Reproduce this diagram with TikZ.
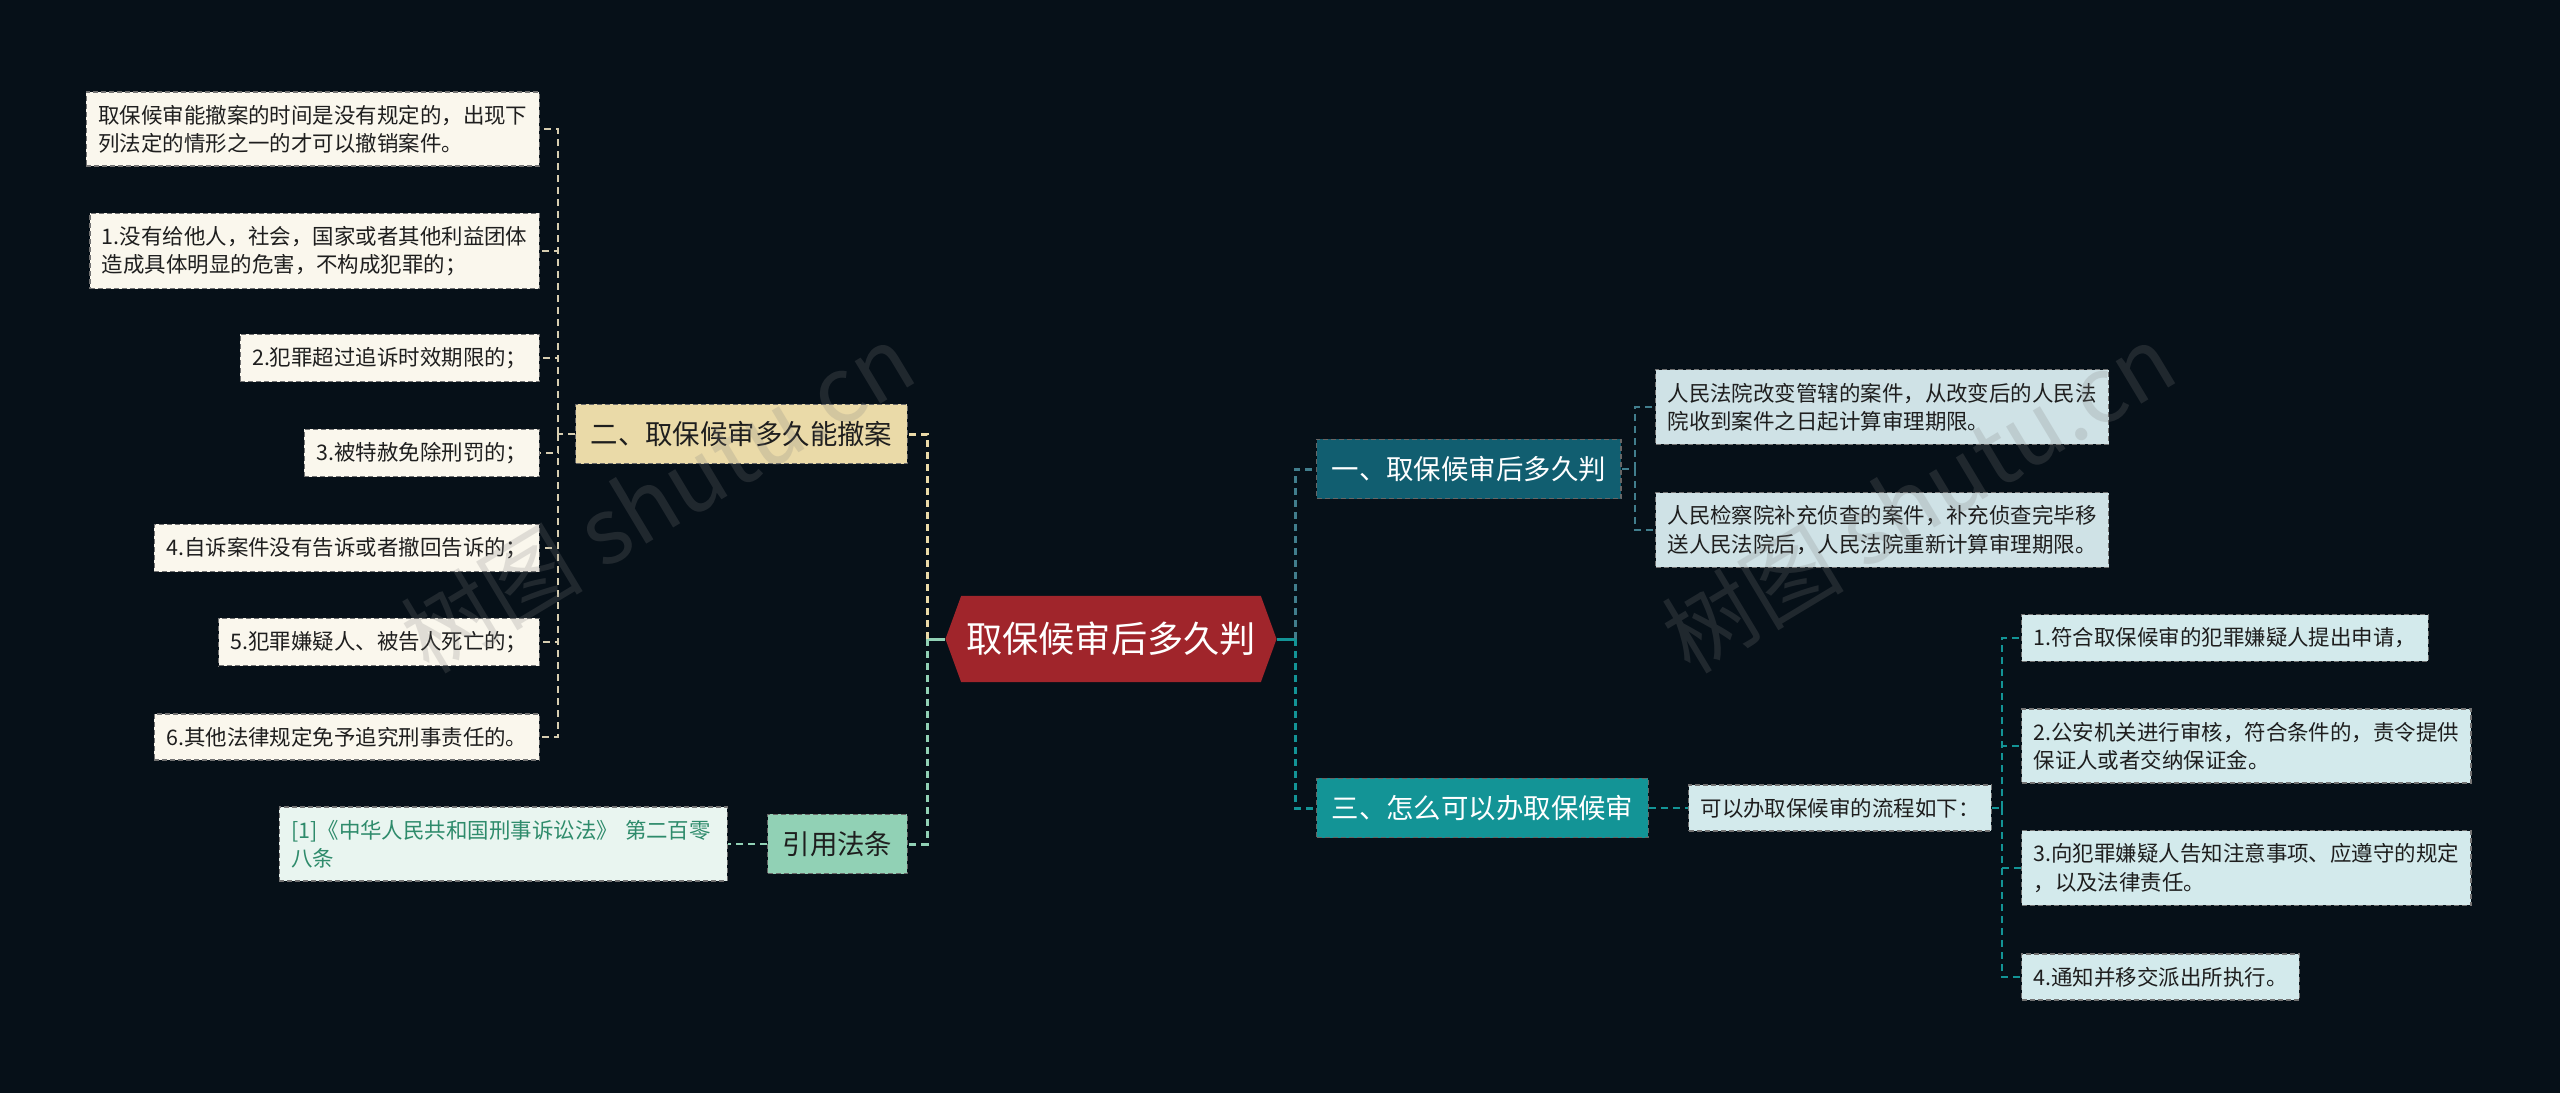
\documentclass[tikz,border=0pt]{standalone}
\usepackage{fontspec}
\setmainfont{Noto Sans CJK SC}
\usepackage{tikz}
\usetikzlibrary{shapes.symbols, positioning}
\definecolor{bgdark}{RGB}{6,16,24}
\definecolor{rootred}{RGB}{160,37,43}
\definecolor{sandfill}{RGB}{234,218,168}
\definecolor{mintfill}{RGB}{145,209,181}
\definecolor{deepteal}{RGB}{17,94,112}
\definecolor{midteal}{RGB}{19,148,150}
\definecolor{creamleaf}{RGB}{250,247,237}
\definecolor{blueleaf}{RGB}{207,226,230}
\definecolor{aqualeaf}{RGB}{211,234,236}
\definecolor{citefill}{RGB}{233,245,240}
\definecolor{citetext}{RGB}{46,139,107}
\definecolor{sandline}{RGB}{214,205,176}
\definecolor{inkgray}{RGB}{30,30,30}
\newcommand{\rootfont}{\fontsize{10.3pt}{12pt}\selectfont}
\newcommand{\branchfont}{\fontsize{7.8pt}{9.5pt}\selectfont}
\newcommand{\leaffont}{\fontsize{6.1pt}{8pt}\selectfont}

\begin{document}
\begin{tikzpicture}[x=0.01cm, y=-0.01cm,
  rootbox/.style={shape=signal, signal to=west and east, signal pointer angle=140,
                  fill=rootred, text=white, font=\rootfont,
                  minimum height=0.86cm, inner xsep=0.05cm},
  branch/.style={rectangle, draw=black!60, dash pattern=on 0.05cm off 0.03cm,
                 line width=0.012cm, inner xsep=0.15cm, inner ysep=0.17cm,
                 font=\branchfont},
  leaf/.style={rectangle, draw=black!55, dash pattern=on 0.05cm off 0.03cm,
               line width=0.012cm, inner xsep=0.12cm, inner ysep=0.13cm,
               align=left, font=\leaffont, text=inkgray},
  stem/.style={line width=0.03cm},
  spine/.style={line width=0.03cm, dash pattern=on 0.07cm off 0.05cm},
  twig/.style={line width=0.02cm, dash pattern=on 0.07cm off 0.05cm},
  watermark/.style={font=\fontsize{26pt}{30pt}\selectfont, text=gray, opacity=0.22}
]
  \fill[bgdark] (0,0) rectangle (2560,1093);
  \useasboundingbox (0,0) rectangle (2560,1093);

  \node[rootbox] (root) at (1111,639) {取保候审后多久判};

  % left branches
  \node[branch, fill=sandfill, text=inkgray, anchor=east] (n2) at (908,434) {二、取保候审多久能撤案};
  \node[branch, fill=mintfill, text=inkgray, anchor=east] (law) at (908,844) {引用法条};
  \node[leaf, fill=citefill, text=citetext, text width=4.24cm, left=0.39cm of law] (cite)
    {[1]《中华人民共和国刑事诉讼法》 第二百零\\八条};

  \node[leaf, fill=creamleaf, anchor=east] (l0) at (540,129) {取保候审能撤案的时间是没有规定的，出现下\\列法定的情形之一的才可以撤销案件。};
  \node[leaf, fill=creamleaf, anchor=east] (l1) at (540,251) {1.没有给他人，社会，国家或者其他利益团体\\造成具体明显的危害，不构成犯罪的；};
  \node[leaf, fill=creamleaf, anchor=east] (l2) at (540,358) {2.犯罪超过追诉时效期限的；};
  \node[leaf, fill=creamleaf, anchor=east] (l3) at (540,453) {3.被特赦免除刑罚的；};
  \node[leaf, fill=creamleaf, anchor=east] (l4) at (540,548) {4.自诉案件没有告诉或者撤回告诉的；};
  \node[leaf, fill=creamleaf, anchor=east] (l5) at (540,642) {5.犯罪嫌疑人、被告人死亡的；};
  \node[leaf, fill=creamleaf, anchor=east] (l6) at (540,737) {6.其他法律规定免予追究刑事责任的。};

  % right branches
  \node[branch, fill=deepteal, text=white, anchor=west] (n1) at (1316,469) {一、取保候审后多久判};
  \node[branch, fill=midteal, text=white, anchor=west] (n3) at (1316,808) {三、怎么可以办取保候审};

  \node[leaf, fill=blueleaf, anchor=west] (r1) at (1655,407) {人民法院改变管辖的案件，从改变后的人民法\\院收到案件之日起计算审理期限。};
  \node[leaf, fill=blueleaf, anchor=west] (r2) at (1655,530) {人民检察院补充侦查的案件，补充侦查完毕移\\送人民法院后，人民法院重新计算审理期限。};

  \node[leaf, fill=aqualeaf, right=0.39cm of n3] (flow) {可以办取保候审的流程如下：};
  \node[leaf, fill=aqualeaf, anchor=west] (s1) at (2021,638) {1.符合取保候审的犯罪嫌疑人提出申请，};
  \node[leaf, fill=aqualeaf, anchor=west] (s2) at (2021,746) {2.公安机关进行审核，符合条件的，责令提供\\保证人或者交纳保证金。};
  \node[leaf, fill=aqualeaf, anchor=west] (s3) at (2021,868) {3.向犯罪嫌疑人告知注意事项、应遵守的规定\\，以及法律责任。};
  \node[leaf, fill=aqualeaf, anchor=west] (s4) at (2021,977) {4.通知并移交派出所执行。};

  % connectors, left
  \coordinate (lj) at (927,639);
  \coordinate (lk) at (558,434);
  \draw[stem, color=mintfill] (root.west) -- (lj);
  \draw[spine, color=sandfill] (lj) |- (n2.east);
  \draw[spine, color=mintfill] (lj) |- (law.east);
  \draw[twig, color=mintfill] (law.west) -- (cite.east);
  \draw[twig, color=sandline] (n2.west) -- (lk);
  \draw[twig, color=sandline] (lk) |- (l0.east);
  \draw[twig, color=sandline] (lk) |- (l1.east);
  \draw[twig, color=sandline] (lk) |- (l2.east);
  \draw[twig, color=sandline] (lk) |- (l3.east);
  \draw[twig, color=sandline] (lk) |- (l4.east);
  \draw[twig, color=sandline] (lk) |- (l5.east);
  \draw[twig, color=sandline] (lk) |- (l6.east);

  % connectors, right
  \coordinate (rj) at (1295,639);
  \coordinate (rk) at (1635,469);
  \coordinate (fk) at (2002,808);
  \draw[stem, color=midteal] (root.east) -- (rj);
  \draw[spine, color=deepteal!80!white] (rj) |- (n1.west);
  \draw[spine, color=midteal] (rj) |- (n3.west);
  \draw[twig, color=deepteal!80!white] (n1.east) -- (rk);
  \draw[twig, color=deepteal!80!white] (rk) |- (r1.west);
  \draw[twig, color=deepteal!80!white] (rk) |- (r2.west);
  \draw[twig, color=midteal] (n3.east) -- (flow.west);
  \draw[twig, color=midteal] (flow.east) -- (fk);
  \draw[twig, color=midteal] (fk) |- (s1.west);
  \draw[twig, color=midteal] (fk) |- (s2.west);
  \draw[twig, color=midteal] (fk) |- (s3.west);
  \draw[twig, color=midteal] (fk) |- (s4.west);

  % watermarks
  \node[watermark, rotate=31] (wm1) at (657,498) {树图 shutu.cn};
  \node[watermark, rotate=31] (wm2) at (1918,498) {树图 shutu.cn};
\end{tikzpicture}
\end{document}
